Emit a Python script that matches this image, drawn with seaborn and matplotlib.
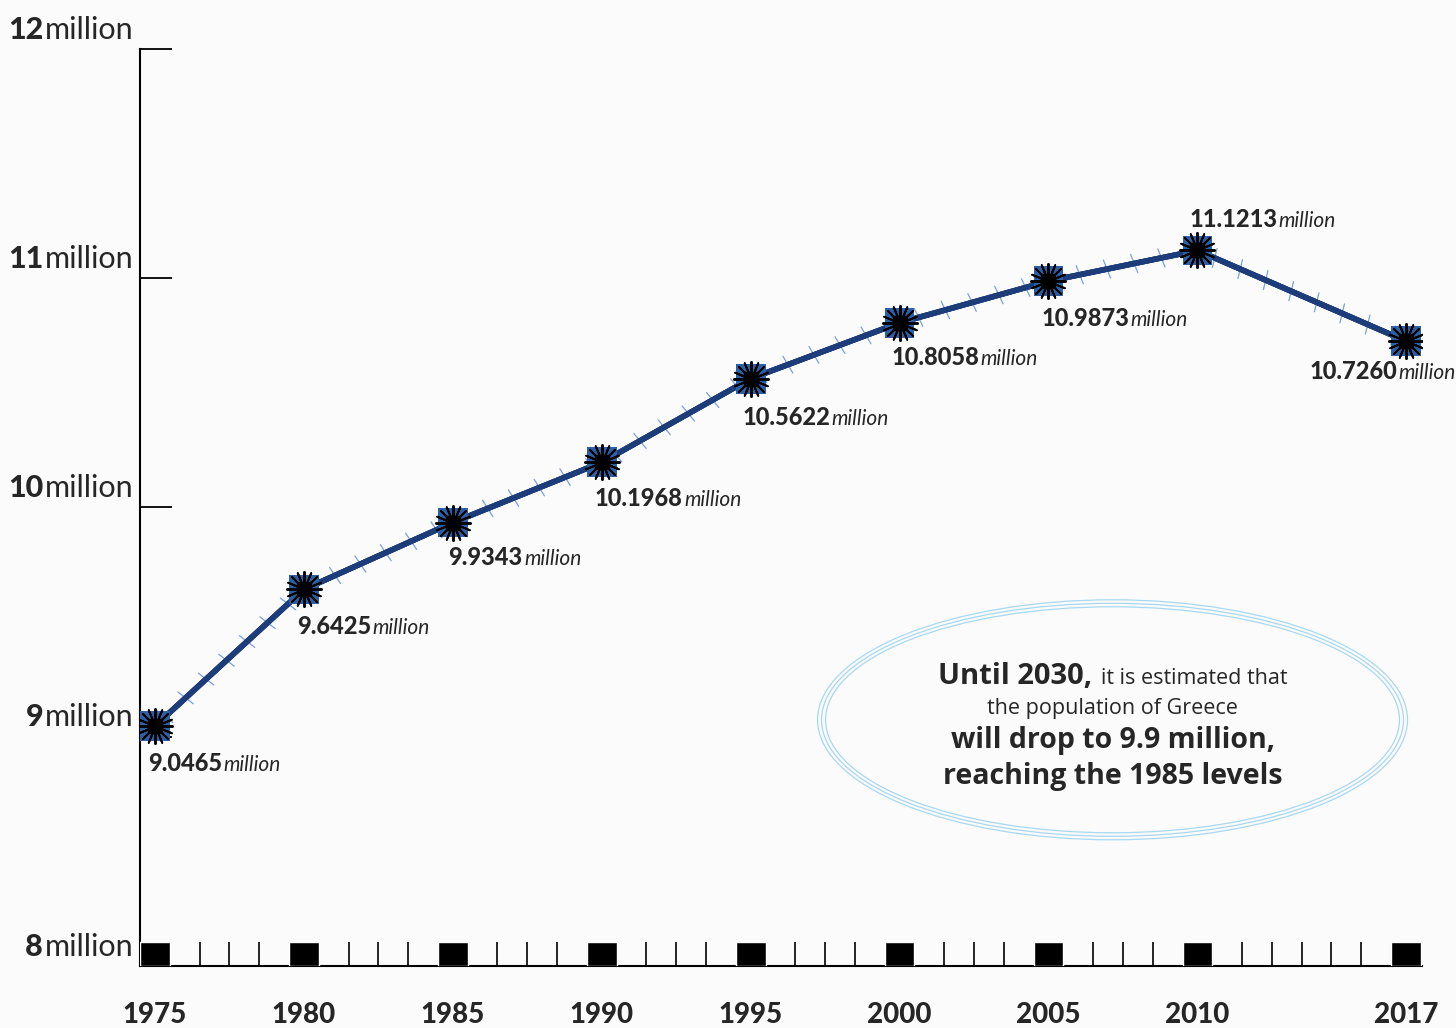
import numpy as np
import pandas as pd
import seaborn as sns
from matplotlib import pyplot as plt
from matplotlib import patheffects
from matplotlib.patches import Ellipse
from matplotlib.ticker import FixedLocator
from matplotlib.offsetbox import TextArea, HPacker, VPacker, AnnotationBbox

sns.set_style("white")
plt.rcParams['font.family'] = ['Lato', 'DejaVu Sans']

years = [1975, 1980, 1985, 1990, 1995, 2000, 2005, 2010, 2017]
population = [9.0465, 9.6425, 9.9343, 10.1968, 10.5622, 10.8058, 10.9873, 11.1213, 10.7260]
value_labels = ['9.0465', '9.6425', '9.9343', '10.1968', '10.5622',
                '10.8058', '10.9873', '11.1213', '10.7260']
ytick_values = [8, 9, 10, 11, 12]
ytick_numbers = ['8', '9', '10', '11', '12']
# ruler ticks sit on the borders between the one-year cells
minor_ticks = [1976.5, 1977.5, 1978.5, 1981.5, 1982.5, 1983.5, 1986.5, 1987.5, 1988.5,
               1991.5, 1992.5, 1993.5, 1996.5, 1997.5, 1998.5, 2001.5, 2002.5, 2003.5,
               2006.5, 2007.5, 2008.5, 2011.5, 2012.5, 2013.5, 2014.5, 2015.5]
unit = 'million'

df = pd.DataFrame({'year': years, 'population': population})

BG = '#fbfbfb'
LINE = '#1c3c7a'
fig = plt.figure(figsize=(14.56, 10.28), dpi=100, facecolor=BG)
ax = fig.add_axes([140/1456, 62/1028, 1282/1456, 917/1028])
ax.set_facecolor(BG)
ax.set_xlim(1974.5, 2017.54)
ax.set_ylim(8, 12)

for s in ['top', 'right']:
    ax.spines[s].set_visible(False)
for s in ['left', 'bottom']:
    ax.spines[s].set_color('black')
    ax.spines[s].set_linewidth(1.5)

# black boxes on the time axis
ax.bar(years, 0.105, bottom=8, width=1.0, color='black', zorder=3)

ax.set_xticks(years)
ax.set_xticklabels([str(y) for y in years], fontsize=20, fontweight='black')
ax.tick_params(axis='x', which='major', bottom=True, length=0, pad=26)
ax.xaxis.set_minor_locator(FixedLocator(minor_ticks))
ax.tick_params(axis='x', which='minor', bottom=True, direction='in', length=17,
               width=1.2, color='black')

ax.set_yticks(ytick_values)
ax.set_yticklabels([''] * len(ytick_values))
ax.tick_params(axis='y', which='major', left=True, direction='in', length=23,
               width=1.3, color='black')

for v, n in zip(ytick_values, ytick_numbers):
    box = HPacker(children=[TextArea(n, textprops=dict(fontsize=22, fontweight='black')),
                            TextArea(unit, textprops=dict(fontsize=22))],
                  sep=1, pad=0, align='baseline')
    ab = AnnotationBbox(box, (0, v), xycoords=ax.get_yaxis_transform(), xybox=(-5, 14),
                        boxcoords='offset points', box_alignment=(1, 0.5),
                        frameon=False, annotation_clip=False)
    ax.add_artist(ab)

# barbed line
sns.lineplot(data=df, x='year', y='population', color=LINE, linewidth=4, ax=ax, zorder=3)
ax.lines[-1].set_path_effects([
    patheffects.withTickedStroke(angle=100, spacing=20, length=0.35, linewidth=0.9, foreground='#7aa0d6'),
    patheffects.withTickedStroke(angle=-80, spacing=20, length=0.35, linewidth=0.9, foreground='#7aa0d6'),
    patheffects.Normal()])

# starburst markers
sns.scatterplot(data=df, x='year', y='population', marker='s', s=460, color='#2d5fa6',
                edgecolor='none', zorder=4, ax=ax, legend=False)
ax.scatter(years, population, marker=(16, 2, 0), s=640, color='black', linewidths=1.4, zorder=5)
ax.scatter(years, population, marker='s', s=90, color='black', zorder=6)
ax.set_xlabel('')
ax.set_ylabel('')

offsets = [(-5, -27, 0), (-5, -27, 0), (-3, -25, 0), (-5, -26, 0), (-6, -28, 0),
           (-6, -25, 0), (-5, -27, 0), (-6, 22, 0), (36, -22, 1)]
for x, y, lab, (dx, dy, al) in zip(years, population, value_labels, offsets):
    box = HPacker(children=[TextArea(lab, textprops=dict(fontsize=17, fontweight='black')),
                            TextArea(unit, textprops=dict(fontsize=15, fontstyle='italic'))],
                  sep=1, pad=0, align='baseline')
    ab = AnnotationBbox(box, (x, y), xycoords='data', xybox=(dx, dy),
                        boxcoords='offset points', box_alignment=(al, 0.5),
                        frameon=False, annotation_clip=False, zorder=7)
    ax.add_artist(ab)

# note ellipse
px_x = 1 / 29.79
px_y = 1 / 229.25
cx, cy = 2007.15, 9.074
for i in range(3):
    ax.add_patch(Ellipse((cx, cy), (590 - 8 * i) * px_x, (240 - 7 * i) * px_y,
                         fill=False, edgecolor='#a8d8f0', linewidth=0.9, zorder=2))

note_font = ['Open Sans', 'DejaVu Sans']
l1 = HPacker(children=[TextArea('Until 2030,', textprops=dict(fontsize=21, fontweight='bold', family=note_font)),
                       TextArea('it is estimated that', textprops=dict(fontsize=15.5, family=note_font))],
             sep=6, pad=0, align='baseline')
l2 = TextArea('the population of Greece', textprops=dict(fontsize=15.5, family=note_font))
l3 = TextArea('will drop to 9.9 million,', textprops=dict(fontsize=20.5, fontweight='bold', family=note_font))
l4 = TextArea('reaching the 1985 levels', textprops=dict(fontsize=20.5, fontweight='bold', family=note_font))
note = VPacker(children=[l1, l2, l3, l4], sep=5, pad=0, align='center')
ax.add_artist(AnnotationBbox(note, (cx, 9.046), xycoords='data', box_alignment=(0.5, 0.5),
                             frameon=False, annotation_clip=False, zorder=7))

fig.savefig('out.png', dpi=100, facecolor=BG)
